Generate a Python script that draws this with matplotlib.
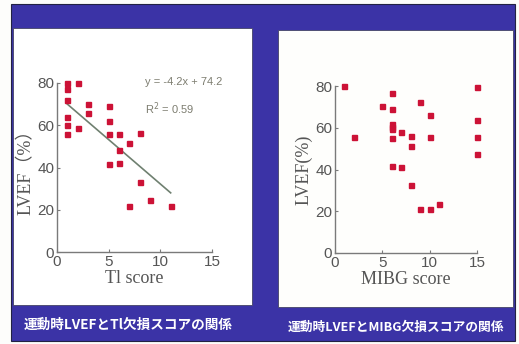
import matplotlib
matplotlib.use("Agg")
import matplotlib.pyplot as plt
from matplotlib.patches import Rectangle
import numpy as np

# ─── Data ────────────────────────────────────────────────────────────────────
tl_score = [1, 2, 1, 1, 3, 3, 1, 1, 1, 2, 5, 5, 5, 6, 8, 7, 6, 5, 6, 8, 7, 9, 11]
tl_lvef = [80, 80, 77, 72, 70, 66, 64, 60, 56, 58.5, 69, 62, 56, 56, 56.5, 51.5,
           48.3, 41.7, 42.3, 33, 22, 24.6, 22]

mibg_score = [1, 2, 5, 6, 6, 6, 6, 6, 6, 7, 8, 8, 9, 10, 10, 6, 7, 8, 9, 10, 11,
              15, 15, 15, 15]
mibg_lvef = [80, 55.8, 70.3, 76.7, 69.2, 62, 60.4, 59.3, 55.3, 58, 56, 51.2,
             72.2, 66, 55.8, 41.8, 41, 32.4, 21, 21, 23.4, 79.6, 63.5, 55.8, 47.5]

fit_slope, fit_intercept, fit_r2 = -4.2, 74.2, 0.59
fit_range = [1, 11]

x_ticks = [0, 5, 10, 15]
y_ticks = [0, 20, 40, 60, 80]

captions = ["運動時LVEFとTl欠損スコアの関係", "運動時LVEFとMIBG欠損スコアの関係"]

# ─── Style ───────────────────────────────────────────────────────────────────
plt.rcParams["font.family"] = ["Liberation Sans", "DejaVu Sans"]
FRAME = "#3b33a6"
DOT = "#cc1236"
AXIS_GRAY = "#7a7a7a"
TEXT_GRAY = "#555555"
W, H = 519, 344

fig = plt.figure(figsize=(W / 100, H / 100), dpi=100)
fig.patch.set_facecolor("#fdfdfb")

# background layer in pixel units (origin top-left)
bg = fig.add_axes([0, 0, 1, 1])
bg.set_xlim(0, W)
bg.set_ylim(H, 0)
bg.axis("off")
bg.add_patch(Rectangle((11, 4), 504, 337, facecolor=FRAME, edgecolor="#222244", lw=0.8))
bg.add_patch(Rectangle((13, 28), 239, 277, facecolor="white", edgecolor="#444466", lw=0.6))
bg.add_patch(Rectangle((278, 30), 235, 277, facecolor="#fefefc", edgecolor="#444466", lw=0.6))
cap_font = ["Noto Sans CJK JP", "DejaVu Sans"]
bg.text(128, 325, captions[0], color="white", fontsize=9.8, fontweight="bold",
        family=cap_font, ha="center", va="center")
bg.text(396, 327, captions[1], color="white", fontsize=9.2, fontweight="bold",
        family=cap_font, ha="center", va="center")


def style_axes(ax, xlabel, ylabel, ylabel_family):
    ax.set_xlim(0, 15)
    ax.set_ylim(0, 80)
    ax.set_facecolor("none")
    for side in ("top", "right"):
        ax.spines[side].set_visible(False)
    for side in ("left", "bottom"):
        ax.spines[side].set_color(AXIS_GRAY)
        ax.spines[side].set_linewidth(1.0)
    ax.set_xticks(x_ticks)
    ax.set_yticks(y_ticks)
    ax.tick_params(length=2, direction="in", colors=AXIS_GRAY, labelcolor=TEXT_GRAY,
                   labelsize=11, pad=2)
    ax.set_xlabel(xlabel, family="Liberation Serif", fontsize=13, color=TEXT_GRAY,
                  labelpad=1)
    ax.set_ylabel(ylabel, family=ylabel_family, fontsize=13, color=TEXT_GRAY,
                  labelpad=2)


# ─── Tl score panel ──────────────────────────────────────────────────────────
ax1 = fig.add_axes([57 / W, 1 - 252 / H, 155 / W, 169 / H])
style_axes(ax1, "Tl score", "LVEF（%）", ["Liberation Serif", "Noto Sans CJK JP"])
fx = np.array(fit_range)
ax1.plot(fx, fit_slope * fx + fit_intercept, color="#6f8070", lw=1.2, zorder=2)
ax1.plot(tl_score, tl_lvef, "s", color=DOT, ms=3.6, clip_on=False, zorder=3)
ax1.text(8.5, 80.5, f"y = {fit_slope}x + {fit_intercept}", fontsize=8,
         color="#7d7d70", va="center")
ax1.text(8.5, 68, f"R$^2$ = {fit_r2}", fontsize=8, color="#7d7d70", va="center")

# ─── MIBG score panel ────────────────────────────────────────────────────────
ax2 = fig.add_axes([335 / W, 1 - 253 / H, 142 / W, 167 / H])
style_axes(ax2, "MIBG score", "LVEF(%)", "Liberation Serif")
ax2.plot(mibg_score, mibg_lvef, "s", color=DOT, ms=3.6, clip_on=False, zorder=3)

fig.savefig("out.png", dpi=100, facecolor=fig.get_facecolor())
